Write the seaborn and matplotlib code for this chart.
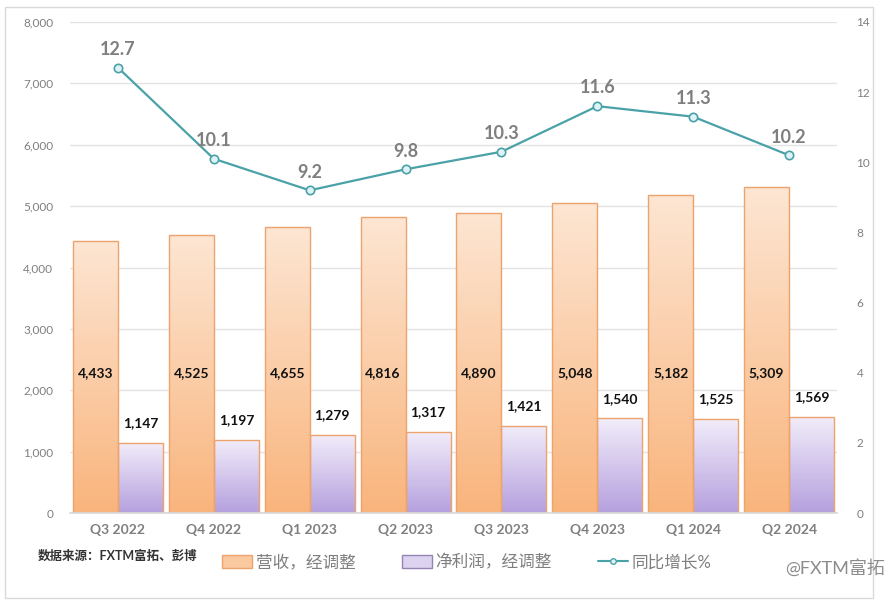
import numpy as np
import pandas as pd
import matplotlib
matplotlib.use("Agg")
import matplotlib.pyplot as plt
import matplotlib.patches as mpatches
from matplotlib.lines import Line2D
from matplotlib.colors import LinearSegmentedColormap
import seaborn as sns

# Data
quarters = ['Q3 2022', 'Q4 2022', 'Q1 2023', 'Q2 2023', 'Q3 2023', 'Q4 2023', 'Q1 2024', 'Q2 2024']
revenue = [4433, 4525, 4655, 4816, 4890, 5048, 5182, 5309]
net_profit = [1147, 1197, 1279, 1317, 1421, 1540, 1525, 1569]
yoy_growth = [12.7, 10.1, 9.2, 9.8, 10.3, 11.6, 11.3, 10.2]
series_names = ['营收，经调整', '净利润，经调整', '同比增长%']

sns.set_theme(style="white")
plt.rcParams['font.family'] = ['Lato', 'Noto Sans CJK SC', 'DejaVu Sans']

df = pd.DataFrame({
    'quarter': quarters * 2,
    'value': revenue + net_profit,
    'series': [series_names[0]] * len(quarters) + [series_names[1]] * len(quarters),
})

fig = plt.figure(figsize=(8.96, 6.08), dpi=100)
ax = fig.add_axes([70 / 896, 1 - 513 / 608, 767 / 896, 491 / 608])

orange_edge = '#eea26c'
purple_edge = '#9484b4'
sns.barplot(data=df, x='quarter', y='value', hue='series', ax=ax,
            palette=['#fbc9a0', '#d6cbed'], width=0.94, gap=0,
            edgecolor=[orange_edge] * 8 + [purple_edge] * 8, linewidth=1.0,
            legend=False, saturation=1)

# gradient fill for the bars
cmap_orange = LinearSegmentedColormap.from_list('o', ['#f9b47c', '#fde6d3'])
cmap_purple = LinearSegmentedColormap.from_list('p', ['#b5a0de', '#f2edfa'])
grad = np.linspace(0, 1, 256).reshape(-1, 1)
bars = [p for p in ax.patches if isinstance(p, mpatches.Rectangle)]
for i, p in enumerate(bars[:16]):
    x0, y0 = p.get_x(), p.get_y()
    w, h = p.get_width(), p.get_height()
    cm = cmap_orange if i < 8 else cmap_purple
    im = ax.imshow(grad, cmap=cm, origin='lower', aspect='auto',
                   extent=[x0, x0 + w, y0, y0 + h], zorder=p.get_zorder() - 0.1)
    im.set_clip_path(p)
    p.set_facecolor('none')
    p.set_zorder(p.get_zorder() + 0.2)

ax.set_xlim(-0.5, len(quarters) - 0.5)
ax.set_ylim(0, 8000)
ax.set_yticks(range(0, 8001, 1000))
ax.set_yticklabels([f'{v:,}' for v in range(0, 8001, 1000)])
ax.grid(axis='y', color='#e3e3e3', linewidth=1)
ax.set_axisbelow(True)
ax.set_xlabel('')
ax.set_ylabel('')
for s in ['top', 'left', 'right']:
    ax.spines[s].set_visible(False)
ax.spines['bottom'].set_color('#d9d9d9')
ax.tick_params(axis='y', labelsize=8.5, labelcolor='#7f7f7f', length=0, pad=12)
ax.tick_params(axis='x', length=0, pad=8)
for lbl in ax.get_xticklabels():
    lbl.set_fontsize(10)
    lbl.set_fontweight('bold')
    lbl.set_color('#7f7f7f')

# value labels
for i in range(len(quarters)):
    ax.text(i - 0.235, 2280, f'{revenue[i]:,}', ha='center', va='center',
            fontsize=10, fontweight='bold', color='#111111', zorder=10)
    ax.annotate(f'{net_profit[i]:,}', (i + 0.235, net_profit[i]), xytext=(0, 10),
                textcoords='offset points', ha='center', va='bottom',
                fontsize=10, fontweight='bold', color='#111111', zorder=10)

# growth line on secondary axis
ax2 = ax.twinx()
x_pos = np.arange(len(quarters))
sns.lineplot(x=x_pos, y=yoy_growth, ax=ax2, color='#4aa2a8', linewidth=1.6,
             marker='o', markersize=6, markerfacecolor='#dff3f6',
             markeredgecolor='#4aa2a8', markeredgewidth=1.2)
ax2.set_ylim(0, 14)
ax2.set_yticks(range(0, 15, 2))
ax2.tick_params(axis='y', labelsize=8.5, labelcolor='#7f7f7f', length=0, pad=14)
for s in ['top', 'left', 'right', 'bottom']:
    ax2.spines[s].set_visible(False)
ax2.grid(False)
for i, v in enumerate(yoy_growth):
    ax2.annotate(f'{v}', (i, v), xytext=(0, 7), textcoords='offset points',
                 ha='center', va='bottom', fontsize=13, fontweight='bold', color='#7f7f7f')

# legend
handles = [
    mpatches.Patch(facecolor='#fbc9a0', edgecolor=orange_edge, label=series_names[0]),
    mpatches.Patch(facecolor='#ddd3f0', edgecolor=purple_edge, label=series_names[1]),
    Line2D([0], [0], color='#4aa2a8', marker='o', markersize=4, markerfacecolor='#dff3f6',
           markeredgecolor='#4aa2a8', label=series_names[2]),
]
leg = fig.legend(handles=handles, loc='center', bbox_to_anchor=(467 / 896, 1 - 562 / 608),
                 ncol=3, frameon=False, fontsize=12, columnspacing=2.8, handlelength=1.8,
                 handleheight=0.8, handletextpad=0.2)
for t in leg.get_texts():
    t.set_color('#7f7f7f')

fig.text(38 / 896, 1 - 556 / 608, '数据来源：FXTM富拓、彭博', fontsize=9, fontweight='bold',
         color='#333333', va='center', ha='left')
fig.text(885 / 896, 1 - 568 / 608, '@FXTM富拓', fontsize=13, color='#8c8c8c',
         va='center', ha='right')

# outer frame
fig.patches.append(mpatches.Rectangle((5 / 896, 1 - 598 / 608), 868 / 896, 591 / 608,
                                      transform=fig.transFigure, fill=False,
                                      edgecolor='#d9d9d9', linewidth=1))

fig.savefig('out.png', dpi=100)
